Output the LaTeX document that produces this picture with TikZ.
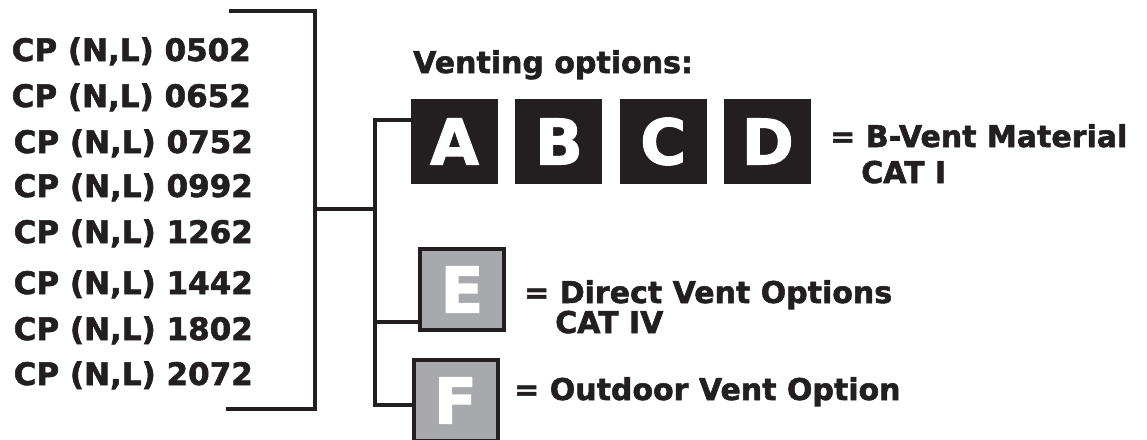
\documentclass[tikz,border=0pt]{standalone}
\usepackage{fontspec}
\setmainfont{DejaVu Sans}[BoldFeatures={FakeBold=1.8}]
\usetikzlibrary{positioning}

\definecolor{ink}{HTML}{231F20}
\definecolor{ventgray}{HTML}{A7A9AC}

\tikzset{
  model/.style={anchor=base west,inner sep=0pt,text=ink,font=\fontsize{30}{36}\selectfont\bfseries},
  darkbox/.style={fill=ink,minimum width=87pt,minimum height=85pt,inner sep=0pt,text=white,font=\fontsize{63}{63}\selectfont\bfseries},
  graybox/.style={fill=ventgray,draw=ink,line width=4pt,minimum width=84pt,minimum height=81pt,inner sep=0pt,text=white,font=\fontsize{63}{63}\selectfont\bfseries},
  bracket/.style={draw=ink,line width=4pt}
}

\begin{document}
\begin{tikzpicture}[x=1pt,y=-1pt]
\useasboundingbox (0,0) rectangle (1147,439);

% model list
\foreach \code/\xx/\yy in {0502/11.5/61,0652/11.5/107,0752/13.5/153,0992/13.5/197,1262/13.5/243,1442/13.5/294,1802/13.5/340,2072/13.5/385}
  \node[model,font=\fontsize{31}{36}\selectfont\bfseries] (cp\code) at (\xx,\yy) {CP (N,L) \code};

% venting option boxes
\node[model] (title) at (413,73) {Venting options:};
\node[darkbox] (A) at (454.5,141.5) {A};
\node[darkbox,right=17pt of A] (B) {B};
\node[darkbox,right=17pt of B] (C) {C};
\node[darkbox,right=17pt of C] (D) {D};
\node[graybox] (E) at (462,289.5) {E};
\node[graybox] (F) at (455.5,400.5) {F};

% legends
\node[model] (bvent) at (830,147) {= B-Vent Material};
\node[model] (cat1) at (861,183) {CAT I};
\node[model] (direct) at (524,303) {= Direct Vent Options};
\node[model] (cat4) at (555,333) {CAT IV};
\node[model] (outdoor) at (514,400) {= Outdoor Vent Option};

% brackets
\coordinate (topend) at (229,11);
\coordinate (botend) at (226,409);
\coordinate (hub) at (315,209);
\coordinate (spine) at (375,0);
\coordinate (atap) at ([yshift=21.5pt]A.west);
\coordinate (etap) at ([yshift=-32.5pt]E.west);
\coordinate (ftap) at ([yshift=-4.5pt]F.west);

\draw[bracket] (topend) -| (hub) |- (botend);
\draw[bracket] (hub) -- (hub -| spine);
\draw[bracket] (atap) -| (spine |- ftap) -- (ftap);
\draw[bracket] (spine |- etap) -- (etap);

\end{tikzpicture}
\end{document}
